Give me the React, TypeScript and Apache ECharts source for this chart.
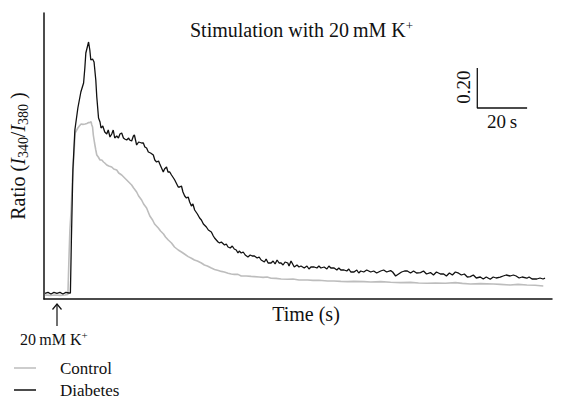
import React, { useEffect, useRef } from "react";
import * as echarts from "echarts";

// time (s) and ratio values
const diabetesTime = [0.4,1.6,2.8,4.0,5.2,6.4,7.6,8.8,10.0,10.6,11.0,11.6,12.4,13.6,14.8,15.9,16.4,16.8,17.9,18.4,18.8,19.5,20.1,20.8,21.2,21.9,22.5,22.9,23.6,24.4,25.2,25.8,26.5,27.2,27.8,28.4,29.2,29.9,30.5,31.2,31.9,32.4,33.2,34.0,34.4,35.2,35.9,36.3,37.2,38.0,39.2,39.9,40.5,41.2,41.9,42.8,43.9,44.5,45.2,46.0,46.5,47.2,47.9,48.4,49.2,49.8,50.5,51.2,52.0,52.5,53.9,54.5,55.2,55.8,56.5,57.2,57.9,58.5,59.2,59.8,60.5,61.6,62.5,63.2,64.0,65.2,66.0,67.2,68.0,68.5,69.9,70.5,71.2,72.5,73.2,73.9,74.8,75.6,76.4,77.2,77.9,78.4,79.2,80.0,80.8,81.9,82.8,83.6,84.5,85.6,86.4,87.2,88.5,89.2,90.0,91.2,92.0,92.8,93.6,94.4,95.2,96.0,96.8,97.9,98.4,99.2,100.5,101.6,102.4,103.2,104.5,105.6,106.4,107.2,108.5,109.6,110.4,111.2,112.5,113.6,114.4,115.2,116.5,117.6,118.4,119.2,120.5,121.6,122.4,123.2,124.5,125.6,126.4,127.2,128.4,129.6,131.2,132.4,133.6,135.2,136.4,137.6,139.2,140.0,141.2,142.4,143.6,144.8,145.9,147.2,148.4,149.6,151.2,152.4,153.6,155.2,156.4,157.6,159.2,160.5,161.6,162.8,164.0,165.2,166.5,167.6,168.8,170.0,171.2,172.4,173.6,175.2,176.4,177.6,179.2,180.4,181.6,183.2,184.4,185.6,187.2,188.5,189.6,190.8,192.0,193.9,194.8,196.0,197.9,199.2,200.4,201.2];
const diabetesRatio = [0.628,0.633,0.625,0.633,0.628,0.633,0.625,0.633,0.630,0.630,0.895,1.245,1.445,1.555,1.635,1.680,1.755,1.830,1.885,1.845,1.795,1.800,1.785,1.695,1.610,1.505,1.485,1.455,1.465,1.435,1.425,1.445,1.410,1.425,1.445,1.405,1.415,1.405,1.425,1.430,1.405,1.400,1.395,1.405,1.395,1.390,1.415,1.420,1.370,1.385,1.380,1.380,1.360,1.355,1.335,1.330,1.320,1.295,1.285,1.290,1.275,1.255,1.235,1.250,1.260,1.235,1.235,1.220,1.205,1.195,1.160,1.160,1.165,1.135,1.115,1.105,1.110,1.085,1.065,1.075,1.045,1.025,1.005,0.995,0.975,0.960,0.945,0.935,0.915,0.905,0.885,0.880,0.885,0.870,0.875,0.860,0.855,0.865,0.850,0.845,0.830,0.840,0.830,0.835,0.820,0.810,0.820,0.815,0.815,0.805,0.810,0.795,0.785,0.800,0.780,0.780,0.790,0.775,0.795,0.780,0.780,0.770,0.785,0.780,0.765,0.790,0.760,0.770,0.760,0.765,0.755,0.765,0.750,0.760,0.760,0.755,0.765,0.755,0.760,0.750,0.765,0.755,0.755,0.745,0.755,0.745,0.745,0.740,0.750,0.735,0.735,0.745,0.730,0.740,0.735,0.745,0.735,0.740,0.730,0.740,0.745,0.735,0.742,0.735,0.715,0.725,0.735,0.740,0.740,0.730,0.740,0.730,0.732,0.740,0.725,0.732,0.720,0.735,0.725,0.725,0.715,0.730,0.720,0.735,0.729,0.720,0.725,0.710,0.712,0.720,0.705,0.710,0.700,0.710,0.699,0.710,0.705,0.709,0.715,0.720,0.715,0.720,0.715,0.705,0.710,0.704,0.710,0.700,0.700,0.705,0.700,0.704];

const controlTime = [0.4,2.4,4.4,6.4,8.4,9.6,10.0,10.4,10.9,11.4,11.9,12.5,13.6,14.2,14.9,15.6,16.5,17.2,17.9,18.5,18.9,19.2,19.5,19.8,20.3,20.8,21.2,21.8,22.5,23.2,23.9,24.4,25.2,26.0,27.2,28.0,29.2,30.0,31.2,32.0,33.2,34.0,35.2,36.0,37.2,38.0,39.2,40.0,41.2,42.5,43.6,44.4,45.9,46.8,48.0,48.8,49.9,51.2,52.4,53.9,55.2,56.4,57.9,59.2,60.4,61.6,63.2,64.4,65.6,67.2,68.5,70.0,71.2,72.4,73.9,75.2,76.4,77.9,79.2,81.2,83.2,84.5,86.4,88.0,89.6,91.2,93.2,95.2,97.9,100.0,102.4,105.9,108.0,110.4,113.9,116.4,119.2,121.9,124.4,128.5,131.2,135.2,139.2,143.2,147.2,150.4,153.9,157.2,161.2,165.2,168.0,171.2,175.2,180.5,183.2,187.2,190.4,193.9,197.2,200.5];
const controlRatio = [0.620,0.618,0.620,0.618,0.620,0.623,0.795,0.945,1.045,1.195,1.295,1.430,1.455,1.465,1.475,1.473,1.475,1.478,1.482,1.483,1.487,1.470,1.460,1.420,1.380,1.345,1.320,1.310,1.295,1.295,1.285,1.280,1.270,1.265,1.260,1.250,1.245,1.230,1.220,1.210,1.195,1.185,1.170,1.155,1.135,1.115,1.095,1.075,1.055,1.015,0.995,0.975,0.955,0.940,0.925,0.910,0.895,0.880,0.860,0.845,0.835,0.825,0.812,0.804,0.795,0.790,0.780,0.770,0.765,0.755,0.748,0.743,0.738,0.735,0.729,0.725,0.723,0.723,0.715,0.715,0.713,0.712,0.710,0.708,0.710,0.704,0.703,0.700,0.699,0.700,0.695,0.695,0.693,0.694,0.690,0.690,0.688,0.687,0.688,0.687,0.685,0.687,0.684,0.682,0.683,0.680,0.679,0.680,0.679,0.682,0.678,0.675,0.677,0.675,0.673,0.670,0.673,0.670,0.669,0.665];

// scale bar: 20 s horizontally, 0.20 ratio vertically
const scaleBarTime = [174, 174, 194];
const scaleBarRatio = [1.755, 1.555, 1.555];

const seriesNames = ["Control", "Diabetes"];
const FONT = "'Liberation Serif', 'Times New Roman', serif";

const zip = (a: number[], b: number[]) => a.map((v, i) => [v, b[i]]);

export default function App() {
  const ref = useRef<HTMLDivElement>(null);
  useEffect(() => {
    if (!ref.current) return;
    const chart = echarts.init(ref.current, null, { renderer: "svg" });
    const supRich = (size: number) => ({
      sup: { fontSize: size, lineHeight: 8, verticalAlign: "top", fontFamily: FONT, color: "#111" },
    });
    chart.setOption({
      animation: false,
      backgroundColor: "#fff",
      grid: { left: 37, right: 15, top: 13, bottom: 106 },
      title: {
        text: "Stimulation with 20\u2009mM K{sup|+}",
        left: 185,
        top: 14,
        textStyle: {
          fontFamily: FONT,
          fontSize: 20,
          fontWeight: "normal",
          color: "#111",
          lineHeight: 22,
          rich: supRich(13),
        },
      },
      legend: {
        data: seriesNames,
        orient: "vertical",
        left: 14,
        top: 359,
        height: 80,
        padding: 0,
        icon: "rect",
        itemWidth: 22,
        itemHeight: 1.5,
        itemGap: 4,
        textStyle: { fontFamily: FONT, fontSize: 17, lineHeight: 18, color: "#111", padding: [0, 0, 0, 19] },
      },
      xAxis: {
        type: "value",
        min: 0,
        max: 204,
        name: "Time (s)",
        nameLocation: "middle",
        nameGap: 5,
        nameTextStyle: { fontFamily: FONT, fontSize: 20, color: "#111", padding: [0, 0, 0, 16] },
        axisLine: { show: true, lineStyle: { color: "#111", width: 1.5 } },
        axisTick: { show: false },
        axisLabel: { show: false },
        splitLine: { show: false },
      },
      yAxis: {
        type: "value",
        min: 0.6,
        max: 2.03,
        name: "{n|Ratio (}{i|I}{s|340}{n|/}{i|I}{s|380}{n| )}",
        nameLocation: "middle",
        nameRotate: 90,
        nameGap: 14,
        nameTextStyle: {
          fontFamily: FONT,
          fontSize: 20,
          color: "#111",
          rich: {
            n: { fontFamily: FONT, fontSize: 20, lineHeight: 24, color: "#111" },
            i: { fontFamily: FONT, fontSize: 20, lineHeight: 24, fontStyle: "italic", color: "#111" },
            s: { fontFamily: FONT, fontSize: 14, lineHeight: 14, verticalAlign: "bottom", color: "#111" },
          },
        },
        axisLine: { show: true, lineStyle: { color: "#111", width: 1.5 } },
        axisTick: { show: false },
        axisLabel: { show: false },
        splitLine: { show: false },
      },
      series: [
        {
          name: "Control",
          type: "line",
          data: zip(controlTime, controlRatio),
          symbol: "none",
          lineStyle: { color: "#bdbdbd", width: 1.6 },
          itemStyle: { color: "#bdbdbd" },
          z: 2,
        },
        {
          name: "Diabetes",
          type: "line",
          data: zip(diabetesTime, diabetesRatio),
          symbol: "none",
          lineStyle: { color: "#111", width: 1.3 },
          itemStyle: { color: "#111" },
          z: 3,
        },
        {
          name: "scale",
          type: "line",
          data: zip(scaleBarTime, scaleBarRatio),
          symbol: "none",
          lineStyle: { color: "#111", width: 1.3 },
          silent: true,
          z: 4,
        },
      ],
      graphic: [
        {
          type: "text",
          x: 463,
          y: 87,
          rotation: Math.PI / 2,
          style: { text: "0.20", fontFamily: FONT, fontSize: 19, fill: "#111", align: "center", verticalAlign: "middle" },
        },
        {
          type: "text",
          x: 502,
          y: 121,
          style: { text: "20\u2009s", fontFamily: FONT, fontSize: 19, fill: "#111", align: "center", verticalAlign: "middle" },
        },
        {
          type: "line",
          shape: { x1: 57, y1: 326, x2: 57, y2: 304 },
          style: { stroke: "#111", lineWidth: 1.2 },
        },
        {
          type: "polyline",
          shape: { points: [[52.5, 309.5], [57, 304], [61.5, 309.5]] },
          style: { stroke: "#111", lineWidth: 1.2, fill: null },
        },
        {
          type: "text",
          x: 20,
          y: 339,
          style: {
            text: "20\u2009mM K{sup|+}",
            fontFamily: FONT,
            fontSize: 16,
            fill: "#111",
            lineHeight: 20,
            verticalAlign: "middle",
            rich: supRich(11),
          },
        },
      ],
    });
    return () => chart.dispose();
  }, []);
  return <div ref={ref} style={{ width: 567, height: 405, margin: -8 }} />;
}
